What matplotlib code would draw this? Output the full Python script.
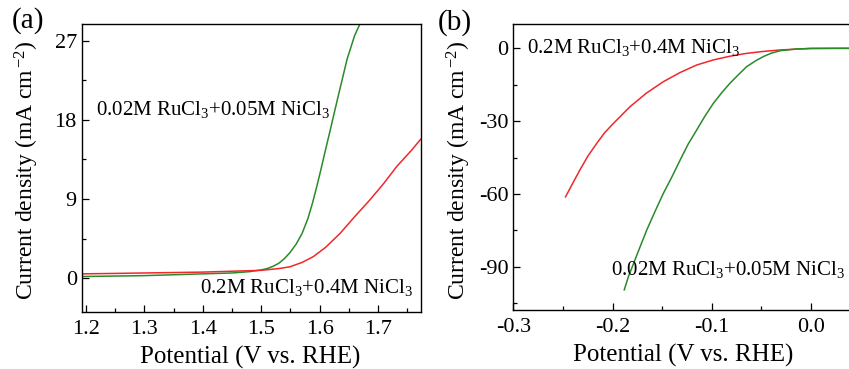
import matplotlib
matplotlib.use("Agg")
import matplotlib.pyplot as plt
from matplotlib.ticker import MultipleLocator

plt.rcParams['font.family'] = 'Liberation Serif'
plt.rcParams['mathtext.fontset'] = 'custom'
plt.rcParams['mathtext.rm'] = 'Liberation Serif'
plt.rcParams['mathtext.it'] = 'Liberation Serif:italic'

# OER polarisation curves (panel a)
oer_green_v = [1.193, 1.25, 1.30, 1.35, 1.40, 1.45, 1.48, 1.50, 1.51, 1.52, 1.53, 1.54,
               1.549, 1.56, 1.57, 1.58, 1.588, 1.595, 1.602, 1.609, 1.618, 1.630,
               1.647, 1.660, 1.669]
oer_green_j = [0.2, 0.25, 0.3, 0.4, 0.5, 0.6, 0.75, 0.95, 1.1, 1.35, 1.7, 2.25,
               2.9, 3.9, 5.1, 6.8, 8.6, 10.4, 12.3, 14.3, 16.8, 20.2,
               24.9, 27.6, 28.9]
oer_red_v = [1.193, 1.25, 1.30, 1.35, 1.40, 1.45, 1.50, 1.53, 1.549, 1.57, 1.589, 1.61,
             1.635, 1.66, 1.686, 1.71, 1.732, 1.758, 1.773]
oer_red_j = [0.5, 0.55, 0.6, 0.65, 0.7, 0.8, 0.9, 1.1, 1.3, 1.8, 2.45, 3.5,
             5.1, 7.0, 8.9, 10.8, 12.7, 14.6, 15.8]

# HER polarisation curves (panel b)
her_red_v = [-0.2474, -0.240, -0.233, -0.225, -0.216, -0.208, -0.1993, -0.1825, -0.166,
             -0.149, -0.132, -0.1153, -0.0985, -0.082, -0.065, -0.048, -0.031, -0.015, 0.0, 0.02, 0.04]
her_red_j = [-61.2, -55.5, -50.2, -44.5, -39.2, -34.8, -31.0, -24.1, -18.5,
             -13.8, -10.0, -6.9, -4.8, -3.3, -2.1, -1.3, -0.7, -0.35, -0.1, -0.05, -0.03]
her_green_v = [-0.1882, -0.184, -0.179, -0.172, -0.1657, -0.157, -0.149, -0.140, -0.132,
               -0.124, -0.1153, -0.107, -0.0985, -0.090, -0.0817, -0.073, -0.065, -0.056,
               -0.048, -0.040, -0.031, -0.0145, 0.0, 0.02, 0.04]
her_green_j = [-99.5, -94.0, -88.8, -81.5, -75.0, -67.0, -59.9, -52.8, -46.1,
               -39.6, -33.7, -28.0, -22.7, -18.3, -14.4, -10.8, -7.6, -5.2,
               -3.4, -2.0, -1.0, -0.3, -0.05, -0.02, -0.01]

label_low = r'0.02M RuCl$_3$+0.05M NiCl$_3$'
label_high = r'0.2M RuCl$_3$+0.4M NiCl$_3$'

green = '#2a8a2a'
red = '#f0282a'

fig = plt.figure(figsize=(8.49, 3.69), dpi=100)
ax1 = fig.add_axes([0.0962, 0.1553, 0.3993, 0.7797])
ax2 = fig.add_axes([0.6046, 0.1599, 0.3954, 0.7751])

for ax in (ax1, ax2):
    ax.tick_params(which='both', direction='in', top=False, right=False, labelsize=16)
    ax.tick_params(axis='x', pad=6)
    ax.tick_params(axis='y', pad=3.5)
    ax.tick_params(which='major', length=5, width=0.9)
    ax.tick_params(which='minor', length=3, width=0.9)
    for sp in ax.spines.values():
        sp.set_linewidth(1.0)
    ax.set_xlabel('Potential (V vs. RHE)', fontsize=18, va='top')
    ax.set_ylabel(r'Current density (mA cm$^{\,\mathregular{-2}}$)', fontsize=17, va='center')
    ax.yaxis.set_label_coords(-0.161, 0.49)

# (a) oxygen evolution
ax1.plot(oer_green_v, oer_green_j, color=green, lw=1.1)
ax1.plot(oer_red_v, oer_red_j, color=red, lw=1.1)
ax1.set_xlim(1.1926, 1.773)
ax1.set_ylim(-3.8, 28.9)
ax1.set_xticks([1.2, 1.3, 1.4, 1.5, 1.6, 1.7])
ax1.set_xticklabels(['1.2', '1.3', '1.4', '1.5', '1.6', '1.7'])
ax1.xaxis.set_minor_locator(MultipleLocator(0.05))
ax1.yaxis.set_major_locator(MultipleLocator(9))
ax1.yaxis.set_minor_locator(MultipleLocator(4.5))
ax1.xaxis.set_label_coords(0.4965, -0.118)
ax1.text(1.2165, 18.56, label_low, fontsize=15)
ax1.text(1.396, -1.67, label_high, fontsize=15)
fig.text(0.014, 0.945, '(a)', fontsize=21, va='center')

# (b) hydrogen evolution
ax2.plot(her_red_v, her_red_j, color=red, lw=1.1)
ax2.plot(her_green_v, her_green_j, color=green, lw=1.1)
ax2.set_xlim(-0.3, 0.0382)
ax2.set_ylim(-107.8, 10.0)
ax2.spines['right'].set_visible(False)
ax2.set_xticks([-0.3, -0.2, -0.1, 0.0])
ax2.set_xticklabels(['-0.3', '-0.2', '-0.1', '0.0'])
ax2.xaxis.set_minor_locator(MultipleLocator(0.05))
ax2.set_yticks([0, -30, -60, -90])
ax2.set_yticklabels(['0', '-30', '-60', '-90'])
ax2.yaxis.set_minor_locator(MultipleLocator(15))
ax2.xaxis.set_label_coords(0.505, -0.118)
ax2.text(-0.2867, -1.94, label_high, fontsize=15)
ax2.text(-0.2017, -93.4, label_low, fontsize=15)
fig.text(0.516, 0.940, '(b)', fontsize=21, va='center')

fig.savefig('out.png', dpi=100)
